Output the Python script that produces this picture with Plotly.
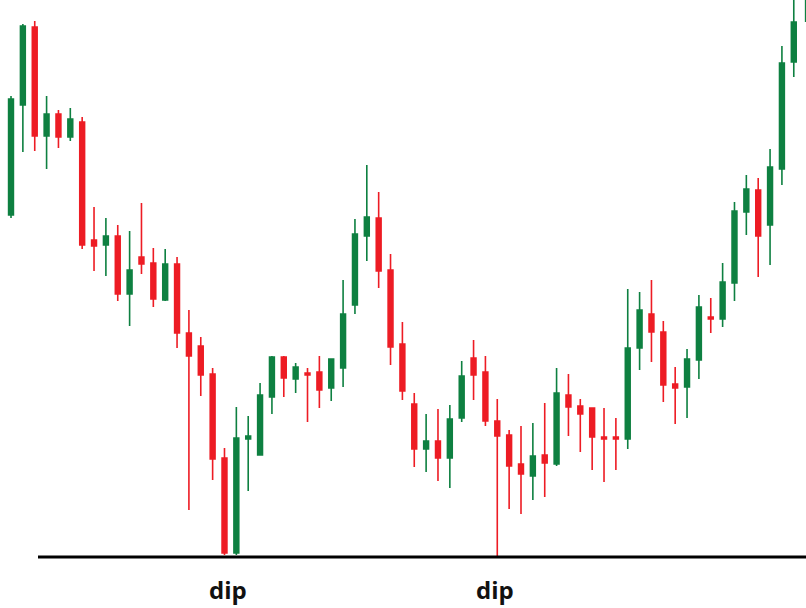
import plotly.graph_objects as go

# OHLC (price units, higher = up)
opens  = [393, 503, 581, 472, 494, 471, 486, 368, 363, 372, 314, 351, 345, 308, 344, 275, 262,
          234, 150, 55, 169, 153, 211, 251, 229, 235, 236, 220, 240, 303, 372, 390, 338, 264,
          204, 159, 167, 150, 190, 250, 236, 187, 173, 144, 132, 153, 144, 213, 202, 200, 171,
          171, 169, 260, 294, 276, 224, 221, 248, 291, 289, 325, 396, 418, 383, 439, 546, 618]
highs  = [512, 584, 587, 512, 498, 500, 491, 401, 390, 383, 377, 405, 360, 359, 351, 298, 271,
          240, 160, 201, 192, 225, 252, 252, 245, 240, 252, 249, 328, 389, 443, 416, 354, 286,
          215, 194, 199, 203, 247, 268, 252, 209, 178, 182, 185, 205, 240, 234, 209, 200, 200,
          190, 319, 316, 328, 287, 241, 259, 313, 310, 345, 406, 433, 430, 459, 562, 613, 650]
lows   = [390, 456, 457, 439, 460, 467, 359, 337, 332, 307, 282, 334, 301, 307, 260, 98, 212,
          128, 53, 53, 117, 153, 194, 211, 215, 186, 200, 207, 221, 294, 347, 320, 243, 208,
          141, 136, 127, 120, 186, 208, 182, 51, 99, 94, 108, 111, 142, 172, 156, 138, 126,
          138, 159, 238, 246, 206, 184, 190, 229, 275, 281, 307, 373, 331, 343, 423, 531, 586]
closes = [509, 582, 472, 494, 471, 489, 363, 362, 372, 314, 338, 344, 309, 344, 275, 252, 233,
          149, 55, 170, 172, 213, 251, 230, 241, 233, 218, 249, 294, 374, 391, 337, 261, 217,
          159, 167, 150, 189, 232, 233, 187, 172, 142, 134, 152, 145, 215, 201, 194, 171, 169,
          169, 260, 298, 276, 223, 220, 249, 301, 289, 326, 397, 419, 372, 441, 545, 586, 640]
idx = list(range(len(opens)))

dip_labels = ['dip', 'dip']
dip_x      = [0.283, 0.614]

GREEN = '#0e8041'
RED   = '#ed1c24'

fig = go.Figure(go.Candlestick(
    x=idx, open=opens, high=highs, low=lows, close=closes,
    increasing=dict(line=dict(color=GREEN, width=1.6), fillcolor=GREEN),
    decreasing=dict(line=dict(color=RED, width=1.6), fillcolor=RED),
    whiskerwidth=0, hoverinfo='skip',
))

# baseline under the two dips
fig.add_shape(type='line', xref='paper', yref='y',
              x0=38 / 806, x1=1, y0=51, y1=51,
              line=dict(color='black', width=3))

for txt, xp in zip(dip_labels, dip_x):
    fig.add_annotation(text=f'<b>{txt}</b>', xref='paper', yref='paper',
                       x=xp, y=19 / 608, xanchor='center', yanchor='middle',
                       showarrow=False,
                       font=dict(family='Open Sans, sans-serif', size=24, color='#111'))

fig.update_layout(
    width=806, height=608, margin=dict(l=0, r=0, t=0, b=0),
    paper_bgcolor='white', plot_bgcolor='white',
    showlegend=False, boxgap=0.42,
    xaxis=dict(visible=False, range=[-0.928, 67.03], rangeslider=dict(visible=False)),
    yaxis=dict(visible=False, range=[0, 608]),
)

# page body has an 8px default margin; drop it so the chart sits at 0,0
fig.write_html('out.html', config={'displayModeBar': False},
               post_script="document.body.style.margin='0';")
